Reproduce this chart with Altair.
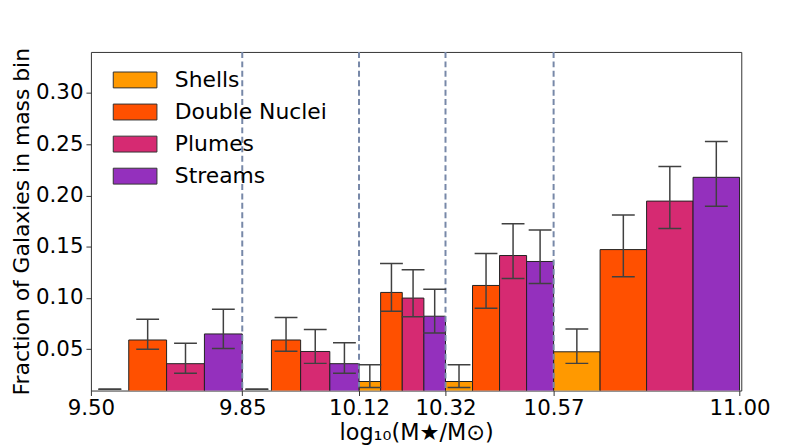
import altair as alt
import pandas as pd

edges = [9.50, 9.85, 10.12, 10.32, 10.57, 11.00]
types = ["Shells", "Double Nuclei", "Plumes", "Streams"]
colors = ["#ff9900", "#ff5000", "#d62a72", "#9430bd"]

shells = [0.0, 0.0, 0.0185, 0.0185, 0.0475]
shells_lo = [0.011, 0.011, 0.0127, 0.0127, 0.0362]
shells_hi = [0.011, 0.011, 0.0349, 0.0349, 0.0697]

dn = [0.059, 0.059, 0.1054, 0.1122, 0.1472]
dn_lo = [0.050, 0.0481, 0.0871, 0.090, 0.1208]
dn_hi = [0.0793, 0.0809, 0.1337, 0.1433, 0.181]

plumes = [0.0359, 0.0478, 0.0999, 0.1414, 0.1945]
plumes_lo = [0.0265, 0.0362, 0.0816, 0.1189, 0.1678]
plumes_hi = [0.0558, 0.0693, 0.1276, 0.1723, 0.2283]

streams = [0.0649, 0.0359, 0.0822, 0.1356, 0.2177]
streams_lo = [0.0507, 0.0265, 0.0658, 0.1141, 0.1894]
streams_hi = [0.089, 0.0562, 0.1086, 0.1662, 0.2527]

series = {
    "Shells": (shells, shells_lo, shells_hi),
    "Double Nuclei": (dn, dn_lo, dn_hi),
    "Plumes": (plumes, plumes_lo, plumes_hi),
    "Streams": (streams, streams_lo, streams_hi),
}

rows = []
for b in range(len(edges) - 1):
    lo_e, hi_e = edges[b], edges[b + 1]
    w = (hi_e - lo_e) / 4
    for j, t in enumerate(types):
        v, l, h = series[t]
        rows.append({
            "type": t,
            "x0": lo_e + j * w,
            "x1": lo_e + (j + 1) * w,
            "xc": lo_e + (j + 0.5) * w,
            "value": v[b],
            "lo": l[b],
            "hi": h[b],
            "order": j,
        })
df = pd.DataFrame(rows)
lines_df = pd.DataFrame({"edge": edges[1:-1]})

FONT = "DejaVu Sans"
xscale = alt.Scale(domain=[9.5, 11.004], nice=False, zero=False)
yscale = alt.Scale(domain=[0.0097, 0.34], nice=False, zero=False)

xaxis = alt.Axis(values=edges, format=".2f", title="log₁₀(M★/M⊙)",
                 labelFontSize=21.5, titleFontSize=22.5, grid=False, tickSize=5,
                 labelPadding=2, titlePadding=3, domain=False,
                 labelFont=FONT, titleFont=FONT, titleFontWeight="normal",
                 labelColor="black", titleColor="black", tickColor="#333",
                 labelFlush=False, labelOverlap=False)
yaxis = alt.Axis(values=[0.05, 0.10, 0.15, 0.20, 0.25, 0.30], format=".2f",
                 title="Fraction of Galaxies in mass bin",
                 labelFontSize=21.5, titleFontSize=22, grid=False, tickSize=5,
                 labelPadding=3, titlePadding=1.5, domain=False,
                 labelFont=FONT, titleFont=FONT, titleFontWeight="normal",
                 labelColor="black", titleColor="black", tickColor="#333")

color = alt.Color("type:N", scale=alt.Scale(domain=types, range=colors),
                  legend=alt.Legend(title=None, orient="none", legendX=33.5, legendY=17.2,
                                    symbolType="M-2.75,-1H2.75V1H-2.75Z",
                                    symbolSize=256, symbolStrokeColor="#333",
                                    symbolStrokeWidth=1, symbolOpacity=1,
                                    labelFontSize=22, labelFont=FONT, labelColor="black",
                                    labelOffset=29, rowPadding=10.3, padding=0,
                                    labelLimit=300))

bars = alt.Chart(df).mark_bar(stroke="#222", strokeWidth=1, clip=True, opacity=1).encode(
    x=alt.X("x0:Q", scale=xscale, axis=xaxis),
    x2="x1:Q",
    y=alt.Y("value:Q", scale=yscale, axis=yaxis),
    y2=alt.datum(0.0),
    color=color,
    order="order:Q",
)

vlines = alt.Chart(lines_df).mark_rule(color="#7788a8", strokeWidth=2,
                                       strokeDash=[6, 3.5]).encode(
    x=alt.X("edge:Q", scale=xscale),
)

err = alt.Chart(df).mark_rule(color="#404040", strokeWidth=1.5, clip=True).encode(
    x=alt.X("xc:Q", scale=xscale),
    y=alt.Y("lo:Q", scale=yscale),
    y2="hi:Q",
)
cap_lo = alt.Chart(df).mark_tick(color="#404040", orient="horizontal", size=23,
                                 thickness=1.5, clip=True, opacity=1).encode(
    x=alt.X("xc:Q", scale=xscale),
    y=alt.Y("lo:Q", scale=yscale),
)
cap_hi = alt.Chart(df).mark_tick(color="#404040", orient="horizontal", size=23,
                                 thickness=1.5, clip=True, opacity=1).encode(
    x=alt.X("xc:Q", scale=xscale),
    y=alt.Y("hi:Q", scale=yscale),
)

chart = alt.layer(bars, vlines, err, cap_lo, cap_hi).properties(
    width=655, height=341,
    autosize=alt.AutoSizeParams(type="none"),
    padding={"left": 83.5, "top": 42.7, "right": 40, "bottom": 56},
    background="white",
).configure_view(stroke="#333", strokeWidth=1)

chart.save("out.html", embed_options={"renderer": "svg", "actions": False})
